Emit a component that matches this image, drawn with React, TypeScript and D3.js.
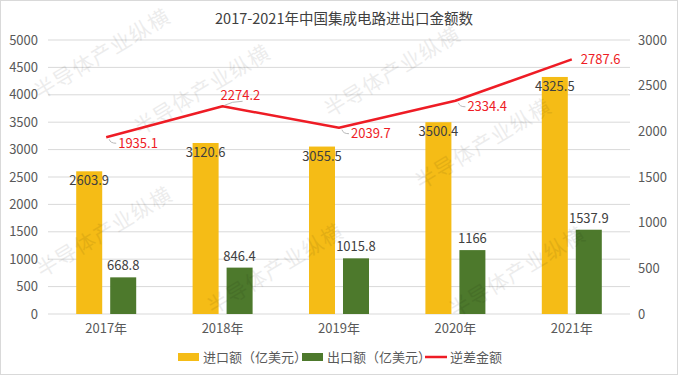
import React from 'react'
import * as d3 from 'd3'

const years = ['2017年', '2018年', '2019年', '2020年', '2021年']
const importVals = [2603.9, 3120.6, 3055.5, 3500.4, 4325.5]
const exportVals = [668.8, 846.4, 1015.8, 1166, 1537.9]
const deficitVals = [1935.1, 2274.2, 2039.7, 2334.4, 2787.6]
const leftTicks = [0, 500, 1000, 1500, 2000, 2500, 3000, 3500, 4000, 4500, 5000]
const rightTicks = [0, 500, 1000, 1500, 2000, 2500, 3000]
// where the deficit label sits relative to its point
const deficitLabelPos = ['br', 'above', 'br', 'br', 'right']

const W = 678
const H = 375
const FONT = '"Noto Sans CJK SC", "Noto Sans", sans-serif'
const YELLOW = '#F5BC16'
const GREEN = '#4D792C'
const RED = '#EE1C25'
const TEXT = '#404040'

const watermarks = [
  [40, 100], [140, 136], [330, 118], [421, 190], [42, 278], [213, 315], [455, 318],
]

export default function App() {
  const plot = { left: 48, right: 630, top: 40, bottom: 314 }
  const x = d3.scaleBand<string>().domain(years).range([plot.left, plot.right])
  const x1 = d3.scaleBand<string>().domain(['imp', 'exp']).range([-30, 30]).paddingInner(0.235)
  const yL = d3.scaleLinear().domain([0, 5000]).range([plot.bottom, plot.top])
  const yR = d3.scaleLinear().domain([0, 3000]).range([plot.bottom, plot.top])
  const cx = (i: number) => (x(years[i]) as number) + x.bandwidth() / 2

  const line = d3
    .line<number>()
    .x((_, i) => cx(i))
    .y((d) => yR(d))

  return (
    <div style={{ position: 'absolute', left: 0, top: 0 }}>
      <svg width={W} height={H} style={{ display: 'block', fontFamily: FONT }}>
        <rect x={0.5} y={0.5} width={W - 1} height={H - 1} fill="#fff" stroke="#d9d9d9" />

        <text x={344} y={24} textAnchor="middle" fontSize={14.5} fill={TEXT}>
          2017-2021年中国集成电路进出口金额数
        </text>

        {/* gridlines */}
        {leftTicks.map((t) => (
          <line key={t} x1={plot.left} x2={plot.right} y1={yL(t)} y2={yL(t)} stroke="#d9d9d9" />
        ))}
        {leftTicks.map((t) => (
          <text key={t} x={38} y={yL(t) + 4.5} textAnchor="end" fontSize={13} fill="#595959">
            {t}
          </text>
        ))}
        {rightTicks.map((t) => (
          <text key={t} x={638} y={yR(t) + 4.5} fontSize={13} fill="#595959">
            {t}
          </text>
        ))}
        {years.map((yr, i) => (
          <text key={yr} x={cx(i)} y={333} textAnchor="middle" fontSize={13} fill="#595959">
            {yr}
          </text>
        ))}

        {/* bars */}
        {importVals.map((v, i) => (
          <rect
            key={'i' + i}
            x={cx(i) + (x1('imp') as number)}
            y={yL(v)}
            width={x1.bandwidth()}
            height={plot.bottom - yL(v)}
            fill={YELLOW}
          />
        ))}
        {exportVals.map((v, i) => (
          <rect
            key={'e' + i}
            x={cx(i) + (x1('exp') as number)}
            y={yL(v)}
            width={x1.bandwidth()}
            height={plot.bottom - yL(v)}
            fill={GREEN}
          />
        ))}

        {/* watermark */}
        {watermarks.map(([wx, wy], i) => (
          <text
            key={'w' + i}
            x={wx}
            y={wy}
            transform={`rotate(-31 ${wx} ${wy})`}
            fontSize={21}
            letterSpacing={1}
            fill="#000"
            opacity={0.07}
            fontFamily={'"Noto Sans CJK SC"'}
          >
            半导体产业纵横
          </text>
        ))}

        {/* bar labels */}
        {importVals.map((v, i) => (
          <text
            key={'il' + i}
            x={cx(i) + (x1('imp') as number) + x1.bandwidth() / 2}
            y={yL(v) + 14}
            textAnchor="middle"
            fontSize={13}
            fill={TEXT}
          >
            {v}
          </text>
        ))}
        {exportVals.map((v, i) => (
          <text
            key={'el' + i}
            x={cx(i) + (x1('exp') as number) + x1.bandwidth() / 2}
            y={yL(v) - 7}
            textAnchor="middle"
            fontSize={13}
            fill={TEXT}
          >
            {v}
          </text>
        ))}

        {/* deficit line */}
        <path d={line(deficitVals) || ''} fill="none" stroke={RED} strokeWidth={2.5} strokeLinejoin="round" />
        {deficitVals.map((v, i) => {
          const px = cx(i)
          const py = yR(v)
          const pos = deficitLabelPos[i]
          if (pos === 'above') {
            return (
              <g key={'d' + i}>
                <path d={`M${px + 2},${py - 1} L${px + 10},${py - 4} L${px + 20},${py - 5}`} fill="none" stroke="#a6a6a6" strokeWidth={0.8} />
                <text x={px - 2} y={py - 6} fontSize={13} fill={RED}>
                  {v}
                </text>
              </g>
            )
          }
          if (pos === 'right') {
            return (
              <text key={'d' + i} x={px + 9} y={py + 5} fontSize={13} fill={RED}>
                {v}
              </text>
            )
          }
          return (
            <g key={'d' + i}>
              <path d={`M${px + 3},${py + 2} Q${px + 4},${py + 6} ${px + 10},${py + 6}`} fill="none" stroke="#a6a6a6" strokeWidth={0.8} />
              <text x={px + 12} y={py + 10.5} fontSize={13} fill={RED}>
                {v}
              </text>
            </g>
          )
        })}

        {/* legend */}
        <rect x={178} y={353} width={21} height={8} fill={YELLOW} />
        <text x={203} y={361.5} fontSize={13} fill="#595959">进口额（亿美元）</text>
        <rect x={302} y={353} width={21} height={8} fill={GREEN} />
        <text x={327} y={361.5} fontSize={13} fill="#595959">出口额（亿美元）</text>
        <line x1={425} x2={447} y1={357} y2={357} stroke={RED} strokeWidth={2.5} />
        <text x={450} y={361.5} fontSize={13} fill="#595959">逆差金额</text>
      </svg>
    </div>
  )
}
